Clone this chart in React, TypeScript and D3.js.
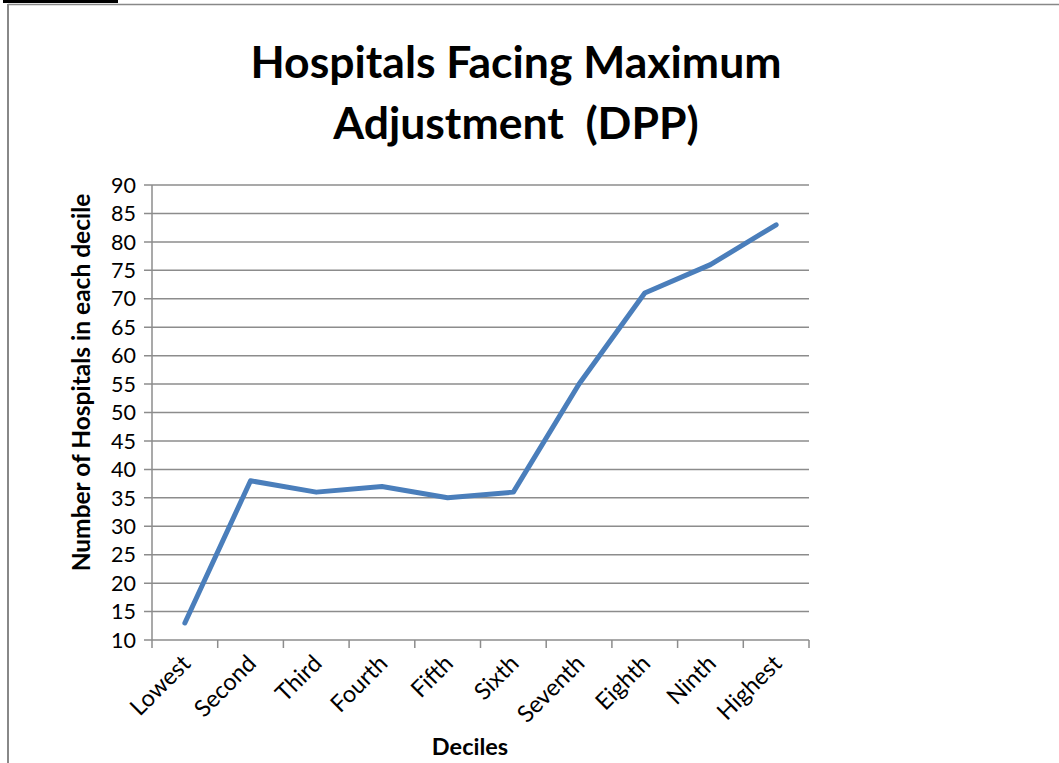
import * as d3 from "d3";

const width = 1059;
const height = 763;

const deciles = ["Lowest", "Second", "Third", "Fourth", "Fifth", "Sixth", "Seventh", "Eighth", "Ninth", "Highest"];
const hospitals = [13, 38, 36, 37, 35, 36, 55, 71, 76, 83];
const yTicks = [10, 15, 20, 25, 30, 35, 40, 45, 50, 55, 60, 65, 70, 75, 80, 85, 90];

const font = "Lato, 'Open Sans', sans-serif";

const App = () => {
  const left = 152;
  const right = 809;
  const top = 185;
  const bottom = 640;

  const x = d3.scaleBand().domain(deciles).range([left, right]);
  const y = d3.scaleLinear().domain([10, 90]).range([bottom, top]);

  const line = d3
    .line<number>()
    .x((_, i) => x(deciles[i])! + x.bandwidth() / 2)
    .y((d) => y(d));

  const tickXs = deciles.map((d) => x(d)!).concat([right]);

  return (
    <svg
      width={width}
      height={height}
      style={{ position: "absolute", left: 0, top: 0, background: "#fff" }}
    >
      <rect x={3} y={0} width={115} height={3} fill="#000" />
      <line x1={8} x2={width} y1={4.5} y2={4.5} stroke="#888" strokeWidth={1.5} />
      <line x1={8} x2={8} y1={4} y2={height} stroke="#888" strokeWidth={2} />

      <text x={516} y={78} textAnchor="middle" fontFamily={font} fontWeight="bold" fontSize={44.5}>
        Hospitals Facing Maximum
      </text>
      <text x={516} y={139} textAnchor="middle" fontFamily={font} fontWeight="bold" fontSize={44.5} style={{ whiteSpace: "pre" }}>
        {"Adjustment  (DPP)"}
      </text>

      {yTicks.map((t) => (
        <g key={t}>
          <line x1={144} x2={right} y1={y(t)} y2={y(t)} stroke="#8c8c8c" strokeWidth={1.5} />
          <text x={136} y={y(t)} dy="0.36em" textAnchor="end" fontFamily={font} fontSize={21.5}>
            {t}
          </text>
        </g>
      ))}
      <line x1={left} x2={left} y1={top} y2={bottom} stroke="#8c8c8c" strokeWidth={1.5} />
      {tickXs.map((tx, i) => (
        <line key={i} x1={tx} x2={tx} y1={bottom} y2={648} stroke="#8c8c8c" strokeWidth={1.5} />
      ))}

      {deciles.map((d) => {
        const cx = x(d)! + x.bandwidth() / 2 + 7;
        const cy = 665;
        return (
          <text
            key={d}
            x={cx}
            y={cy}
            textAnchor="end"
            fontFamily={font}
            fontSize={23.5}
            transform={`rotate(-45 ${cx} ${cy})`}
          >
            {d}
          </text>
        );
      })}

      <path
        d={line(hospitals) || ""}
        fill="none"
        stroke="#4a7ebb"
        strokeWidth={5}
        strokeLinejoin="round"
        strokeLinecap="round"
      />

      <text
        transform={`translate(90 ${(top + bottom) / 2 - 30}) rotate(-90)`}
        textAnchor="middle"
        fontFamily={font}
        fontWeight="bold"
        fontSize={24.5}
      >
        Number of Hospitals in each decile
      </text>
      <text x={470} y={755} textAnchor="middle" fontFamily={font} fontWeight="bold" fontSize={23.5}>
        Deciles
      </text>
    </svg>
  );
};

export default App;
